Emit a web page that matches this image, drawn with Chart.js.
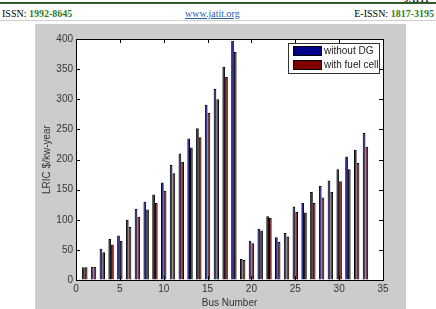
<!DOCTYPE html>
<html lang="en">
  <head>
    <meta charset="UTF-8" />
    <title>LRIC chart</title>
    <script src="https://cdn.jsdelivr.net/npm/chart.js@4.4.0/dist/chart.umd.min.js"></script>
    <style>
      body { margin: 0; background: #fff; }
      #page { position: relative; width: 436px; height: 309px; overflow: hidden; font-family: "Liberation Serif", serif; }
      .hd { position: absolute; top: 8px; font-size: 10px; line-height: 12px; }
      .hd b { color: #2e7d1e; }
      #topline { position: absolute; left: 0; top: 2px; width: 436px; height: 2px; background: #2f5a2a; }
      #subline { position: absolute; left: 0; top: 20px; width: 436px; height: 1px; background: #cfcfcf; }
      #logo { position: absolute; right: 6px; top: -6px; font: bold 9px "Liberation Serif", serif; color: #333; }
      #fig { position: absolute; left: 35px; top: 24px; width: 371px; height: 285px; background: #cccccc; }
    </style>
  </head>
  <body>
    <div id="page">
      <div id="topline"></div>
      <div id="logo">JATIT</div>
      <div class="hd" style="left:2px">ISSN: <b>1992-8645</b></div>
      <div class="hd" style="left:185px; color:#2b5fa8; text-decoration:underline">www.jatit.org</div>
      <div class="hd" style="right:2px">E-ISSN: <b>1817-3195</b></div>
      <div id="subline"></div>
      <div id="fig"><canvas id="grafico" width="371" height="285"></canvas></div>
    </div>

<script>
  const busNumbers = [1, 2, 3, 4, 5, 6, 7, 8, 9, 10, 11, 12, 13, 14, 15, 16, 17,
    18, 19, 20, 21, 22, 23, 24, 25, 26, 27, 28, 29, 30, 31, 32, 33];
  const withoutDG = [21, 22, 52, 68, 74, 100, 118, 130, 142, 162, 191, 210, 235, 252, 291, 317, 354,
    397, 35, 65, 85, 106, 71, 78, 122, 128, 146, 156, 165, 184, 205, 216, 244];
  const withFuelCell = [21, 22, 46, 59, 65, 88, 105, 117, 128, 148, 177, 196, 220, 237, 277, 300, 337,
    379, 33, 61, 82, 103, 63, 72, 113, 112, 128, 137, 146, 164, 184, 194, 221];
  const seriesNames = ["without DG", "with fuel cell"];
  const xTitle = "Bus Number";
  const yTitle = "LRIC $/kw-year";

  const fontTicks = { family: "Liberation Sans", size: 10 };

  // white axes background
  const whiteArea = {
    id: "whiteArea",
    beforeDatasetsDraw(chart) {
      const a = chart.chartArea;
      chart.ctx.save();
      chart.ctx.fillStyle = "#fff";
      chart.ctx.fillRect(a.left, a.top, a.right - a.left, a.bottom - a.top);
      chart.ctx.restore();
    },
  };

  // inward ticks on all four sides + black box, like matlab
  const boxTicks = {
    id: "boxTicks",
    afterDatasetsDraw(chart) {
      const ctx = chart.ctx;
      const a = chart.chartArea;
      const xs = chart.scales.x, ys = chart.scales.y;
      ctx.save();
      ctx.strokeStyle = "#000";
      ctx.lineWidth = 1;
      ctx.beginPath();
      xs.ticks.forEach((t) => {
        const px = Math.round(xs.getPixelForValue(t.value)) + 0.5;
        ctx.moveTo(px, a.bottom); ctx.lineTo(px, a.bottom - 4);
        ctx.moveTo(px, a.top); ctx.lineTo(px, a.top + 4);
      });
      ys.ticks.forEach((t) => {
        const py = Math.round(ys.getPixelForValue(t.value)) + 0.5;
        ctx.moveTo(a.left, py); ctx.lineTo(a.left + 4, py);
        ctx.moveTo(a.right, py); ctx.lineTo(a.right - 4, py);
      });
      ctx.stroke();
      ctx.strokeRect(Math.round(a.left) + 0.5, Math.round(a.top) + 0.5,
        Math.round(a.right - a.left), Math.round(a.bottom - a.top));
      ctx.restore();
    },
  };

  // legend box inside the axes, top right
  const boxLegend = {
    id: "boxLegend",
    afterDraw(chart) {
      const ctx = chart.ctx;
      const a = chart.chartArea;
      const w = 91, h = 30;
      const x0 = a.right - w - 4, y0 = a.top + 4;
      ctx.save();
      ctx.fillStyle = "#fff";
      ctx.fillRect(x0, y0, w, h);
      ctx.strokeStyle = "#333";
      ctx.strokeRect(x0 + 0.5, y0 + 0.5, w, h);
      ctx.font = "10px Liberation Sans";
      ctx.textBaseline = "middle";
      chart.data.datasets.forEach((ds, i) => {
        const yy = y0 + 3 + i * 14;
        ctx.fillStyle = ds.backgroundColor;
        ctx.fillRect(x0 + 5, yy, 29, 10);
        ctx.strokeStyle = "#000";
        ctx.strokeRect(x0 + 5.5, yy + 0.5, 28, 9);
        ctx.fillStyle = "#222";
        ctx.fillText(ds.label, x0 + 36, yy + 5);
      });
      ctx.restore();
    },
  };

  new Chart("grafico", {
    type: "bar",
    data: {
      datasets: [
        {
          label: seriesNames[0],
          data: busNumbers.map((b, i) => ({ x: b, y: withoutDG[i] })),
          backgroundColor: "#00008a",
          borderColor: "#000",
          borderWidth: 1,
        },
        {
          label: seriesNames[1],
          data: busNumbers.map((b, i) => ({ x: b, y: withFuelCell[i] })),
          backgroundColor: "#800000",
          borderColor: "#000",
          borderWidth: 1,
        },
      ],
    },
    options: {
      responsive: false,
      animation: false,
      categoryPercentage: 0.62,
      barPercentage: 1.0,
      layout: { padding: { left: 6, top: 15, right: 23, bottom: 0 } },
      plugins: { legend: { display: false }, tooltip: { enabled: false } },
      scales: {
        x: {
          type: "linear",
          offset: false,
          min: 0,
          max: 35,
          ticks: { stepSize: 5, color: "#333", font: fontTicks, padding: 3, maxRotation: 0 },
          grid: { drawOnChartArea: false, drawTicks: false },
          border: { display: false },
          title: { display: true, text: xTitle, color: "#333", font: fontTicks, padding: { top: 0, bottom: 0 } },
          afterFit: (s) => { s.height = 29; },
        },
        y: {
          min: 0,
          max: 400,
          ticks: { stepSize: 50, color: "#333", font: fontTicks, padding: 3 },
          grid: { drawOnChartArea: false, drawTicks: false },
          border: { display: false },
          title: { display: true, text: yTitle, color: "#333", font: fontTicks, padding: 0 },
          afterFit: (s) => { s.width = 35; },
        },
      },
    },
    plugins: [whiteArea, boxTicks, boxLegend],
  });
</script>
  </body>
</html>
